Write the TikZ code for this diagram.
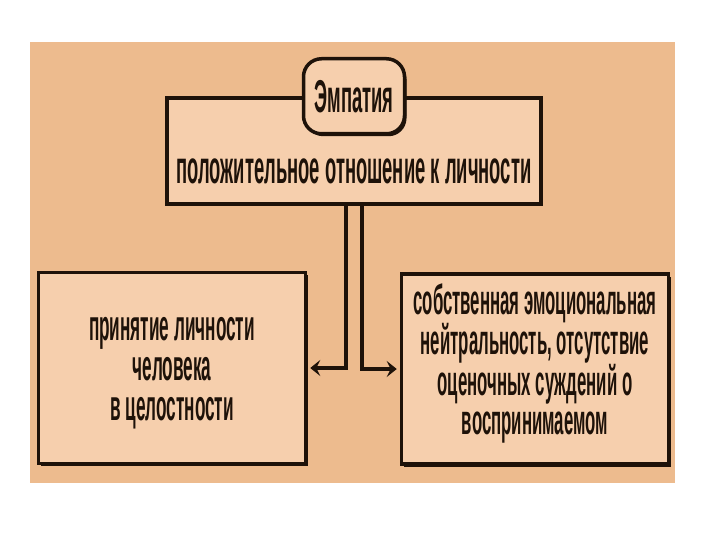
\documentclass[tikz,border=0pt]{standalone}
\usepackage{fontspec}
\setmainfont{Liberation Sans}[FakeStretch=0.40, BoldFont={Liberation Sans Bold}]
\usetikzlibrary{arrows.meta,positioning,shadows}
\definecolor{EmpPanel}{HTML}{EDBB8E}
\definecolor{EmpBox}{HTML}{F6CFAD}
\definecolor{EmpLine}{HTML}{1E1209}

\begin{document}
\begin{tikzpicture}[
        x=1pt, y=-1pt,
        font=\bfseries\fontsize{43}{40}\selectfont,
        box/.style={draw=EmpLine, fill=EmpBox, line width=3.5pt, align=center,
          inner sep=0pt, text=EmpLine,
          drop shadow={shadow xshift=2pt, shadow yshift=-2.5pt, fill=EmpLine, opacity=1}},
        pill/.style={box, rounded corners=18pt},
        arrow/.style={-{Stealth[length=10pt, width=16pt, inset=4pt]}, line width=3.5pt,
          draw=EmpLine, shorten >=3pt}
      ]
        \useasboundingbox[fill=white] (0,0) rectangle (720,540);
        \fill[EmpPanel] (30,42) rectangle (675,483);
        \node[box, minimum width=374pt, text height=86pt, text depth=20pt,
          font=\bfseries\fontsize{46}{40}\selectfont] (pos) at (354,151)
          {положительное отношение к личности};
        \node[pill, minimum width=101pt, minimum height=75pt,
          font=\bfseries\fontsize{46}{40}\selectfont] (emp) at (pos.north) {Эмпатия};
        \node[box, minimum width=267pt, minimum height=191pt] (accept) at (172,368)
          {\rule{0pt}{33pt}принятие личности\\человека\\в целостности};
        \node[box, minimum width=267pt, minimum height=190pt,
          font=\bfseries\fontsize{42}{38.5}\selectfont] (neutral) at (535,369)
          {собственная эмоциональная\\нейтральность, отсутствие\\оценочных суждений о\\воспринимаемом\rule[-20pt]{0pt}{0pt}};
        \draw[arrow] ([xshift=-8pt]pos.south) |- (accept.east);
        \draw[arrow] ([xshift=8pt]pos.south) |- (neutral.west);
      \end{tikzpicture}
\end{document}
